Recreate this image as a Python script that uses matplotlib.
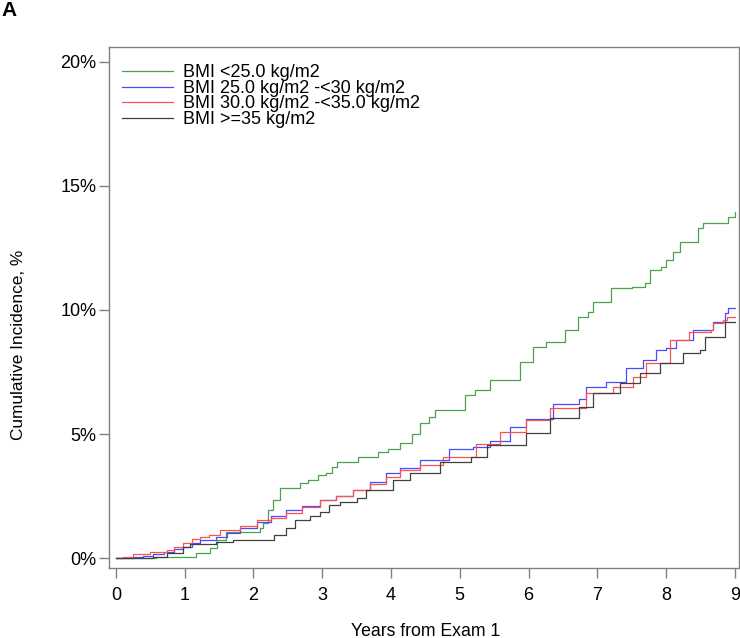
import matplotlib
matplotlib.use("Agg")
import matplotlib.pyplot as plt
from matplotlib.ticker import FuncFormatter

plt.rcParams["font.family"] = ["Liberation Sans", "DejaVu Sans"]

# cumulative incidence (%), step points (years, %)
green_x = [0, 0.59, 1.17, 1.37, 1.47, 1.6, 2.09, 2.14, 2.21, 2.29, 2.38, 2.67, 2.8, 2.94,
           3.06, 3.14, 3.21, 3.52, 3.81, 3.95, 4.13, 4.3, 4.42, 4.55, 4.64, 5.07, 5.22,
           5.44, 5.87, 6.06, 6.26, 6.53, 6.72, 6.87, 6.94, 7.2, 7.5, 7.69, 7.76, 7.93,
           8.0, 8.1, 8.2, 8.46, 8.54, 8.9, 9.0]
green_y = [0, 0.05, 0.19, 0.4, 0.73, 1.06, 1.2, 1.4, 1.94, 2.34, 2.81, 3.01, 3.15, 3.35,
           3.42, 3.68, 3.88, 4.08, 4.29, 4.4, 4.63, 5.0, 5.43, 5.7, 5.97, 6.57, 6.77,
           7.18, 7.9, 8.5, 8.7, 9.2, 9.7, 9.93, 10.34, 10.87, 10.94, 11.08, 11.6, 11.74,
           12.0, 12.35, 12.75, 13.29, 13.5, 13.74, 13.94]

blue_x = [0, 0.1, 0.25, 0.4, 0.54, 0.7, 0.85, 0.98, 1.1, 1.22, 1.46, 1.61, 1.8, 2.05,
          2.25, 2.48, 2.7, 2.97, 3.2, 3.45, 3.7, 3.93, 4.13, 4.42, 4.85, 5.19, 5.44,
          5.73, 5.97, 6.36, 6.74, 6.84, 7.13, 7.42, 7.66, 7.86, 8.0, 8.15, 8.39, 8.68,
          8.85, 8.9, 9.0]
blue_y = [0, 0.02, 0.05, 0.1, 0.16, 0.25, 0.35, 0.46, 0.6, 0.73, 0.86, 1.0, 1.2, 1.46,
          1.7, 1.94, 2.1, 2.34, 2.5, 2.74, 3.05, 3.42, 3.62, 3.95, 4.38, 4.49, 4.7,
          5.29, 5.59, 6.2, 6.4, 6.9, 7.1, 7.65, 7.98, 8.39, 8.45, 8.79, 9.19, 9.53,
          9.87, 10.07, 10.07]

red_x = [0, 0.1, 0.25, 0.5, 0.74, 0.85, 0.98, 1.1, 1.22, 1.35, 1.51, 1.8, 2.05, 2.25,
         2.48, 2.7, 2.97, 3.2, 3.45, 3.7, 3.93, 4.13, 4.42, 4.76, 5.24, 5.58, 5.97,
         6.31, 6.84, 7.23, 7.52, 7.71, 8.05, 8.34, 8.66, 8.68, 8.83, 8.88, 9.0]
red_y = [0, 0.05, 0.16, 0.25, 0.32, 0.45, 0.59, 0.75, 0.86, 0.95, 1.13, 1.3, 1.53, 1.6,
         1.8, 2.05, 2.34, 2.5, 2.74, 3.0, 3.28, 3.55, 3.75, 4.09, 4.58, 5.1, 5.56,
         6.04, 6.64, 6.9, 7.31, 7.85, 8.79, 9.13, 9.19, 9.46, 9.6, 9.73, 9.73]

black_x = [0, 0.2, 0.54, 0.75, 0.98, 1.08, 1.46, 1.7, 2.3, 2.48, 2.6, 2.82, 2.97, 3.1,
           3.26, 3.5, 3.64, 4.03, 4.27, 4.71, 5.17, 5.39, 5.97, 6.31, 6.74, 6.94, 7.33,
           7.62, 7.91, 8.25, 8.49, 8.56, 8.85, 9.0]
black_y = [0, 0, 0.05, 0.2, 0.46, 0.56, 0.66, 0.73, 0.93, 1.2, 1.53, 1.7, 1.87, 2.14,
           2.27, 2.41, 2.74, 3.15, 3.42, 3.88, 4.09, 4.56, 5.03, 5.63, 6.1, 6.64, 7.04,
           7.45, 7.85, 8.26, 8.39, 8.92, 9.53, 9.53]

labels = ["BMI <25.0 kg/m2", "BMI 25.0 kg/m2 -<30 kg/m2",
          "BMI 30.0 kg/m2 -<35.0 kg/m2", "BMI >=35 kg/m2"]
colors = ["#4ea24e", "#4a4aff", "#ff5050", "#404040"]

fig = plt.figure(figsize=(7.4, 6.38), dpi=100)
ax = fig.add_axes([109 / 740, 1 - 568 / 638, 630 / 740, 521 / 638])

series = [(green_x, green_y), (blue_x, blue_y), (red_x, red_y), (black_x, black_y)]
for (xs, ys), lab, col in zip(series, labels, colors):
    ax.plot(xs, ys, drawstyle="steps-post", color=col, lw=0.9, label=lab)

ax.set_xlim(-0.1, 9.06)
ax.set_ylim(-0.4, 20.6)
ax.set_xticks(range(10))
ax.set_yticks([0, 5, 10, 15, 20])
ax.yaxis.set_major_formatter(FuncFormatter(lambda v, _: f"{v:.0f}%"))

for sp in ax.spines.values():
    sp.set_color("#808080")
    sp.set_linewidth(1.0)
ax.tick_params(axis="both", colors="#808080", labelcolor="black", labelsize=13,
               length=7, width=1.0)
ax.tick_params(axis="x", pad=7)
ax.tick_params(axis="y", pad=2)

ax.set_xlabel("Years from Exam 1", fontsize=12.7, va="center")
ax.xaxis.set_label_coords(0.502, -0.121)
ax.set_ylabel("Cumulative Incidence, %", fontsize=12.4, va="center")
ax.yaxis.set_label_coords(-0.144, 0.428)

ax.legend(loc="upper left", bbox_to_anchor=(0.0092, 0.9806), frameon=False,
          fontsize=13, handlelength=2.8, labelspacing=-0.08, borderaxespad=0,
          borderpad=0.4, handletextpad=0.55)

fig.text(1 / 740, 1 - 10 / 638, "A", fontsize=15, fontweight="bold", va="center")

fig.savefig("out.png", dpi=100)
